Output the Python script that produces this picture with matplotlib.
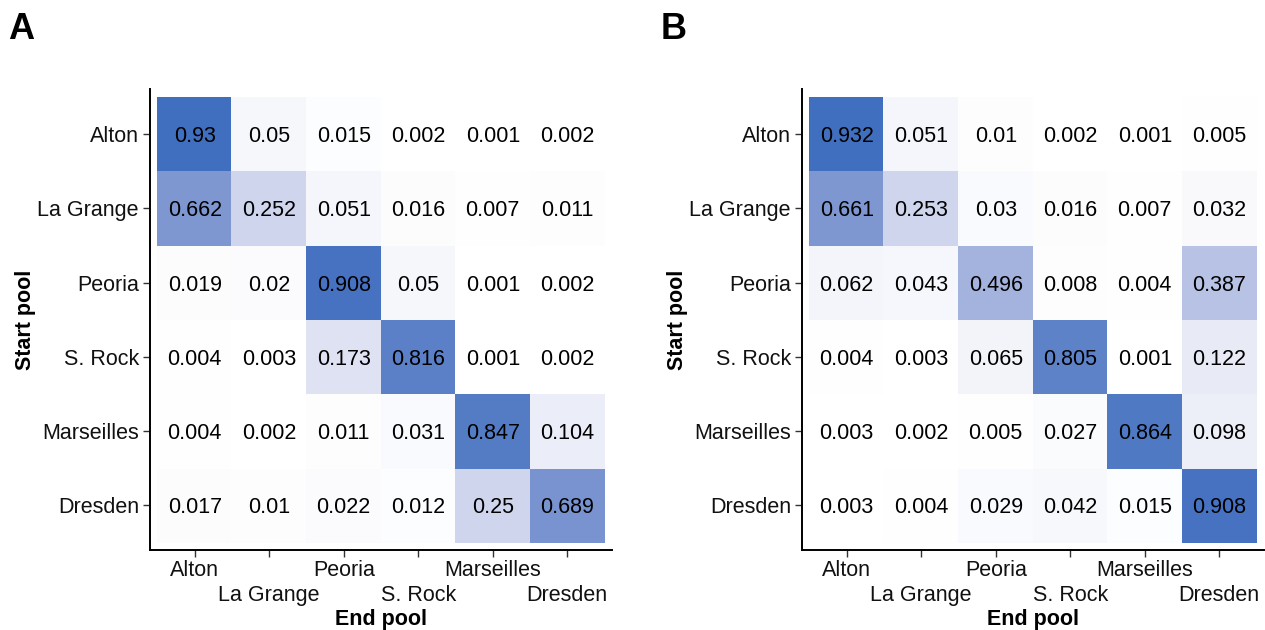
import numpy as np
import matplotlib
matplotlib.use('Agg')
import matplotlib.pyplot as plt
from matplotlib.colors import LinearSegmentedColormap

plt.rcParams['font.family'] = ['Liberation Sans', 'DejaVu Sans']

# pools (same order for start and end)
pools = ['Alton', 'La Grange', 'Peoria', 'S. Rock', 'Marseilles', 'Dresden']

# transition probabilities, rows = start pool, cols = end pool
probs_a = [
    [0.93, 0.05, 0.015, 0.002, 0.001, 0.002],
    [0.662, 0.252, 0.051, 0.016, 0.007, 0.011],
    [0.019, 0.02, 0.908, 0.05, 0.001, 0.002],
    [0.004, 0.003, 0.173, 0.816, 0.001, 0.002],
    [0.004, 0.002, 0.011, 0.031, 0.847, 0.104],
    [0.017, 0.01, 0.022, 0.012, 0.25, 0.689],
]
probs_b = [
    [0.932, 0.051, 0.01, 0.002, 0.001, 0.005],
    [0.661, 0.253, 0.03, 0.016, 0.007, 0.032],
    [0.062, 0.043, 0.496, 0.008, 0.004, 0.387],
    [0.004, 0.003, 0.065, 0.805, 0.001, 0.122],
    [0.003, 0.002, 0.005, 0.027, 0.864, 0.098],
    [0.003, 0.004, 0.029, 0.042, 0.015, 0.908],
]
panel_letters = ['A', 'B']

# white -> blue, slightly lavender in the middle (like a Lab gradient)
stops = [
    (0.0, (255, 255, 255)),
    (0.25, (208, 214, 238)),
    (0.5, (163, 178, 222)),
    (0.66, (127, 152, 210)),
    (0.93, (66, 112, 192)),
    (1.0, (52, 101, 187)),
]
cmap = LinearSegmentedColormap.from_list(
    'wb', [(p, tuple(c / 255 for c in rgb)) for p, rgb in stops])

fig = plt.figure(figsize=(12.65, 6.3), dpi=100)

W, H = 1265, 630
fs = 15.5


def draw_panel(left_px, probs, letter, letter_x):
    ax = fig.add_axes([left_px / W, (H - 550) / H, 462 / W, 460.5 / H])
    arr = np.array(probs)
    ax.imshow(arr, cmap=cmap, vmin=0, vmax=1, aspect='auto')
    n = len(pools)
    for i in range(n):
        for j in range(n):
            ax.text(j, i, f'{arr[i, j]:g}', ha='center', va='center_baseline',
                    fontsize=fs, color='black')
    ax.set_xlim(-0.6, n - 0.4)
    ax.set_ylim(n - 0.4, -0.6)
    ax.set_xticks(range(n))
    ax.set_xticklabels(pools, fontsize=fs, color='#111111')
    ax.set_yticks(range(n))
    ax.set_yticklabels(pools, fontsize=fs, color='#111111')
    # staggered x labels
    for k, t in enumerate(ax.xaxis.get_major_ticks()):
        t.set_pad(2 if k % 2 == 0 else 20)
    ax.tick_params(axis='both', length=5, width=1.0, color='#333333')
    ax.tick_params(axis='y', pad=3)
    for s in ['top', 'right']:
        ax.spines[s].set_visible(False)
    for s in ['left', 'bottom']:
        ax.spines[s].set_linewidth(1.4)
    ax.set_xlabel('End pool', fontsize=fs, fontweight='bold', labelpad=2)
    ax.set_ylabel('Start pool', fontsize=fs, fontweight='bold', labelpad=1)
    fig.text(letter_x / W, 1 - 39 / H, letter, fontsize=26, fontweight='bold',
             va='baseline', ha='left')
    return ax


ax_a = draw_panel(150, probs_a, panel_letters[0], 8)
ax_b = draw_panel(802, probs_b, panel_letters[1], 661)

fig.savefig('out.png', dpi=100)
